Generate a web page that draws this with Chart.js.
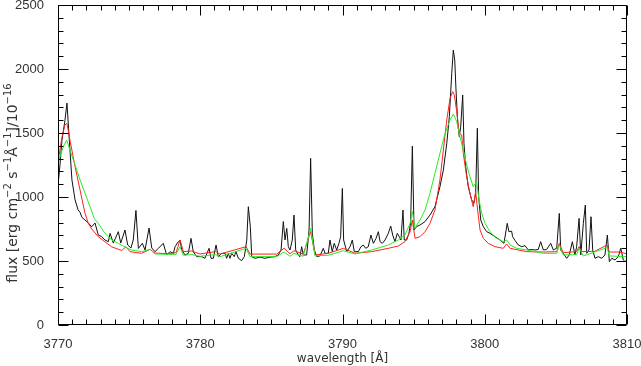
<!DOCTYPE html>
<html><head><meta charset="utf-8">
<script src="https://cdn.jsdelivr.net/npm/chart.js@4"></script>
<style>html,body{margin:0;padding:0;background:#fff}#wrap{width:641px;height:366px}</style>
</head><body><div id="wrap"><canvas id="c" width="641" height="366"></canvas></div>
<script>
// observed spectrum
const blackWave=[3770.00,3770.14,3770.28,3770.49,3770.63,3770.84,3770.98,3771.20,3771.41,3771.55,3771.69,3771.90,3772.13,3772.37,3772.60,3772.83,3773.07,3773.30,3773.54,3773.66,3773.89,3774.24,3774.41,3774.71,3774.90,3775.13,3775.29,3775.48,3775.65,3775.93,3776.12,3776.40,3776.59,3776.82,3777.05,3777.40,3777.64,3777.87,3778.11,3778.23,3778.46,3778.58,3778.70,3778.93,3779.16,3779.35,3779.51,3779.75,3780.10,3780.33,3780.62,3780.76,3780.92,3781.11,3781.27,3781.51,3781.74,3781.86,3781.97,3782.09,3782.21,3782.39,3782.51,3782.68,3782.91,3783.10,3783.27,3783.38,3783.52,3783.62,3783.85,3784.20,3784.55,3784.90,3785.25,3785.49,3785.68,3785.84,3785.96,3786.08,3786.19,3786.31,3786.47,3786.59,3786.71,3786.89,3787.01,3787.13,3787.24,3787.48,3787.65,3787.76,3787.88,3788.02,3788.19,3788.42,3788.65,3788.77,3789.00,3789.12,3789.28,3789.42,3789.59,3789.75,3789.87,3789.99,3790.08,3790.30,3790.53,3790.69,3790.83,3791.11,3791.30,3791.46,3791.63,3791.81,3792.00,3792.17,3792.36,3792.52,3792.64,3792.80,3792.99,3793.22,3793.39,3793.53,3793.69,3793.85,3793.99,3794.11,3794.25,3794.34,3794.51,3794.67,3794.79,3794.91,3795.03,3795.22,3795.45,3795.80,3796.15,3796.50,3796.85,3797.09,3797.33,3797.51,3797.68,3797.79,3797.89,3797.98,3798.10,3798.21,3798.31,3798.45,3798.54,3798.66,3798.84,3799.08,3799.24,3799.36,3799.48,3799.57,3799.72,3799.90,3800.14,3800.37,3800.72,3801.07,3801.35,3801.58,3801.70,3801.89,3801.96,3802.13,3802.36,3802.60,3802.83,3803.06,3803.30,3803.53,3803.76,3803.93,3804.12,3804.35,3804.64,3804.82,3805.06,3805.24,3805.34,3805.52,3805.76,3805.94,3806.16,3806.34,3806.46,3806.63,3806.75,3806.93,3807.07,3807.17,3807.33,3807.47,3807.59,3807.75,3807.98,3808.22,3808.45,3808.62,3808.76,3808.93,3809.16,3809.39,3809.56,3809.74,3809.86,3810.00];
const blackFlux=[1090,1250,1445,1600,1734,1367,1133,977,900,880,840,820,797,768,797,703,690,664,651,716,640,729,640,742,625,602,664,895,598,638,586,758,602,573,598,638,547,573,560,612,651,664,586,547,560,677,573,534,534,521,599,521,521,625,534,560,560,521,560,521,560,534,573,521,503,534,664,924,768,534,521,530,521,530,534,547,586,808,664,755,612,586,664,859,586,547,534,612,547,547,742,1302,716,586,534,540,599,560,560,664,573,638,586,638,690,1067,664,573,612,664,573,573,612,625,599,612,703,638,677,729,651,638,664,716,773,703,651,716,690,664,898,664,664,716,800,1398,742,770,781,808,859,924,1080,1211,1419,1627,1966,2148,2070,1836,1576,1471,1549,1797,1419,1237,1080,977,951,1029,1537,1003,820,768,729,716,690,664,638,794,729,733,690,660,625,612,620,586,590,586,590,651,586,590,638,586,600,872,586,560,521,547,651,547,612,833,547,794,937,560,586,846,586,521,534,521,547,703,495,521,508,534,600,508,495,510];
// model 1 (red)
const redWave=[3770.00,3770.26,3770.49,3770.63,3770.84,3771.20,3771.55,3771.90,3772.13,3772.37,3772.83,3773.30,3773.78,3774.48,3774.78,3775.06,3775.88,3776.47,3776.82,3777.75,3778.30,3778.58,3778.81,3779.40,3779.98,3781.09,3781.39,3783.22,3783.50,3785.37,3785.89,3786.31,3786.59,3787.24,3787.76,3788.07,3789.00,3790.06,3790.88,3792.05,3793.22,3793.92,3794.39,3794.75,3794.91,3795.10,3795.45,3795.80,3796.15,3796.50,3796.85,3797.09,3797.33,3797.56,3797.75,3797.86,3798.03,3798.21,3798.38,3798.49,3798.73,3798.96,3799.19,3799.36,3799.50,3799.67,3799.90,3800.25,3800.72,3801.30,3801.54,3801.78,3802.95,3804.12,3805.06,3805.24,3805.52,3806.46,3806.63,3806.81,3807.52,3807.68,3808.60,3808.76,3809.51,3810.00];
const redFlux=[1270,1458,1563,1576,1445,1237,1055,872,794,750,690,650,610,582,612,573,560,591,562,557,565,664,573,578,555,573,554,612,554,554,599,557,580,554,730,547,560,599,560,573,599,617,651,729,820,677,690,729,794,898,1133,1367,1602,1771,1823,1797,1667,1497,1484,1341,1159,1029,924,1042,898,742,677,638,612,599,633,599,573,570,573,638,565,573,612,573,575,573,625,570,570,555];
// model 2 (green)
const greenWave=[3770.00,3770.14,3770.37,3770.61,3770.84,3771.20,3771.55,3771.90,3772.25,3772.55,3772.83,3773.30,3773.78,3774.24,3774.78,3775.18,3775.88,3776.47,3776.82,3777.75,3778.30,3778.58,3778.81,3779.40,3779.98,3781.09,3781.39,3783.22,3783.50,3785.37,3785.89,3786.31,3786.59,3787.24,3787.76,3788.07,3789.00,3790.06,3790.88,3792.05,3793.22,3793.92,3794.39,3794.75,3794.91,3795.10,3795.22,3795.45,3795.80,3796.15,3796.50,3796.85,3797.21,3797.56,3797.79,3798.03,3798.26,3798.49,3798.73,3798.96,3799.19,3799.43,3799.60,3799.79,3800.02,3800.37,3800.84,3801.30,3801.54,3801.78,3802.25,3802.95,3804.12,3805.06,3805.24,3805.52,3806.46,3806.63,3806.93,3808.60,3808.76,3809.86,3810.00];
const greenFlux=[1250,1315,1393,1445,1367,1250,1133,1029,924,833,794,716,664,638,604,586,573,591,555,552,552,612,545,550,537,550,534,599,534,534,570,537,560,537,755,540,545,580,555,586,625,664,703,794,886,755,781,820,898,1029,1185,1341,1497,1602,1648,1589,1471,1367,1250,1159,1080,1120,977,872,794,729,677,651,664,625,599,586,560,560,625,547,550,599,539,605,540,534,534];

const xMin=3770, xMax=3810, xMajor=10, xMinor=1;
const yMin=0, yMax=2500, yMajor=500, yMinor=100;
const xTitle='wavelength [Å]';
const yTitleParts=[['flux [erg cm',0],['\u22122',1],[' s',0],['\u22121',1],['Å',0],['\u22121',1],[']/10',0],['\u221216',1]];

const pts=(w,f)=>w.map((x,i)=>({x:x,y:f[i]}));
const FONT='Liberation Sans';
const TFONT='DejaVu Sans';
const TXT='#333';

const boxPlugin={id:'boxticks',afterDatasetsDraw(chart){
  const {ctx,chartArea:a,scales:{x,y}}=chart;
  ctx.save();
  ctx.strokeStyle='#000';ctx.lineWidth=1;
  const L=Math.round(a.left)+0.5,R=Math.round(a.right)-0.5,T=Math.round(a.top)+0.5,B=Math.round(a.bottom)-0.5;
  ctx.beginPath();
  ctx.rect(L,T,R-L,B-T);
  for(let v=xMin;v<=xMax+1e-9;v+=xMinor){
    const px=Math.round(x.getPixelForValue(v))+0.5;
    const len=(Math.abs(v/xMajor-Math.round(v/xMajor))<1e-6)?10:5;
    ctx.moveTo(px,B);ctx.lineTo(px,B-len);
    ctx.moveTo(px,T);ctx.lineTo(px,T+len);
  }
  for(let v=yMin;v<=yMax+1e-9;v+=yMinor){
    const py=Math.round(y.getPixelForValue(v))+0.5;
    const len=(v%yMajor===0)?10:5;
    ctx.moveTo(L,py);ctx.lineTo(L+len,py);
    ctx.moveTo(R,py);ctx.lineTo(R-len,py);
  }
  ctx.stroke();
  ctx.restore();
},
afterDraw(chart){
  const {ctx}=chart;
  ctx.save();
  const big='14px "'+TFONT+'"', small='10px "'+TFONT+'"';
  let total=0;
  for(const [t,s] of yTitleParts){ctx.font=s?small:big;total+=ctx.measureText(t).width;}
  ctx.translate(17,183);
  ctx.rotate(-Math.PI/2);
  ctx.fillStyle=TXT;ctx.textBaseline='alphabetic';ctx.textAlign='left';
  let cx=-total/2;
  for(const [t,s] of yTitleParts){ctx.font=s?small:big;ctx.fillText(t,cx,s?-6:0);cx+=ctx.measureText(t).width;}
  ctx.restore();
}};

new Chart(document.getElementById('c'),{
  type:'line',
  data:{datasets:[
    {label:'observed',data:pts(blackWave,blackFlux),borderColor:'#111',borderWidth:1,pointRadius:0,tension:0,order:3},
    {label:'model red',data:pts(redWave,redFlux),borderColor:'#ff2020',borderWidth:1,pointRadius:0,tension:0,order:2},
    {label:'model green',data:pts(greenWave,greenFlux),borderColor:'#22ee22',borderWidth:1,pointRadius:0,tension:0,order:1}
  ]},
  options:{
    responsive:false,devicePixelRatio:1,animation:false,
    layout:{padding:{left:0,right:0,top:0,bottom:0}},
    plugins:{legend:{display:false},tooltip:{enabled:false}},
    scales:{
      x:{type:'linear',min:xMin,max:xMax,
        grid:{display:false},border:{display:false},
        ticks:{stepSize:xMajor,color:TXT,font:{family:FONT,size:13},padding:4,maxRotation:0,callback:v=>String(v)},
        title:{display:true,text:xTitle,color:TXT,font:{family:TFONT,size:12},padding:{top:0,bottom:0}},
        afterFit:s=>{s.height=41;s.paddingLeft=0;s.paddingRight=14;}},
      y:{type:'linear',min:yMin,max:yMax,
        grid:{display:false},border:{display:false},
        ticks:{stepSize:yMajor,color:TXT,font:{family:FONT,size:13},padding:6,callback:v=>String(v)},
        afterFit:s=>{s.width=58;s.paddingTop=5;s.paddingBottom=0;}}
    }
  },
  plugins:[boxPlugin]
});
</script></body></html>
